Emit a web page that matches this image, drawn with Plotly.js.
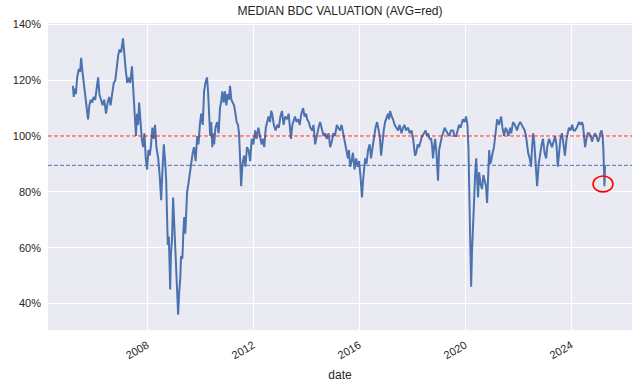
<!DOCTYPE html>
<html>
<head>
<meta charset="utf-8">
<script src="https://cdn.plot.ly/plotly-3.0.1.min.js"></script>
<style>html,body{margin:0;padding:0;background:#fff;}#chart{width:640px;height:386px;}</style>
</head>
<body>
<div id="chart"></div>
<script>
// Decimal-year dates of the series
const yearFrac = [
2005.20,2005.23,2005.27,2005.31,2005.36,2005.42,2005.47,2005.51,2005.56,2005.62,2005.68,2005.74,2005.77,2005.82,2005.87,2005.93,2005.98,
2006.04,2006.09,2006.15,2006.20,2006.26,2006.32,2006.38,2006.45,2006.51,2006.57,2006.62,2006.68,2006.74,2006.80,2006.86,2006.91,2006.96,
2007.02,2007.09,2007.14,2007.19,2007.25,2007.30,2007.36,2007.43,2007.47,2007.53,2007.58,2007.62,2007.66,2007.70,2007.75,2007.80,2007.85,2007.90,2007.95,
2008.00,2008.05,2008.10,2008.15,2008.20,2008.25,2008.30,2008.35,2008.42,2008.48,2008.53,2008.58,2008.63,2008.68,2008.72,2008.75,2008.78,2008.82,2008.87,2008.90,2008.94,2008.98,
2009.02,2009.06,2009.10,2009.14,2009.17,2009.21,2009.25,2009.28,2009.33,2009.37,2009.40,2009.44,2009.48,2009.51,2009.56,2009.61,2009.66,2009.72,2009.77,2009.83,2009.89,2009.94,2009.99,
2010.04,2010.10,2010.15,2010.20,2010.26,2010.30,2010.34,2010.38,2010.42,2010.46,2010.50,2010.53,2010.58,2010.64,2010.70,2010.75,2010.79,2010.84,2010.89,2010.94,2010.99,
2011.04,2011.09,2011.13,2011.18,2011.23,2011.28,2011.32,2011.38,2011.43,2011.47,2011.51,2011.55,2011.60,2011.66,2011.71,2011.77,2011.83,2011.89,2011.95,
2012.01,2012.08,2012.13,2012.20,2012.26,2012.32,2012.37,2012.42,2012.48,2012.53,2012.58,2012.64,2012.68,2012.72,2012.78,2012.85,2012.91,2012.97,
2013.03,2013.09,2013.15,2013.21,2013.28,2013.34,2013.40,2013.43,2013.48,2013.53,2013.58,2013.64,2013.70,2013.76,2013.82,2013.89,2013.94,
2014.00,2014.04,2014.10,2014.16,2014.23,2014.28,2014.34,2014.40,2014.47,2014.53,2014.59,2014.66,2014.72,2014.78,2014.85,2014.91,2014.97,
2015.03,2015.09,2015.16,2015.21,2015.28,2015.34,2015.40,2015.47,2015.53,2015.58,2015.62,2015.66,2015.72,2015.77,2015.83,2015.89,2015.95,
2016.00,2016.05,2016.08,2016.11,2016.15,2016.19,2016.23,2016.28,2016.34,2016.40,2016.45,2016.51,2016.57,2016.62,2016.68,2016.73,2016.78,2016.83,2016.88,2016.93,2016.98,
2017.04,2017.09,2017.13,2017.17,2017.23,2017.28,2017.34,2017.40,2017.47,2017.53,2017.60,2017.66,2017.72,2017.77,2017.85,2017.91,2017.98,
2018.04,2018.08,2018.11,2018.16,2018.21,2018.26,2018.32,2018.38,2018.45,2018.51,2018.56,2018.60,2018.66,2018.72,2018.76,2018.79,2018.83,2018.87,2018.92,2018.98,
2019.02,2019.08,2019.13,2019.17,2019.23,2019.28,2019.34,2019.40,2019.47,2019.55,2019.60,2019.66,2019.72,2019.77,2019.83,2019.88,2019.92,2019.98,
2020.04,2020.09,2020.13,2020.16,2020.20,2020.23,2020.26,2020.30,2020.34,2020.38,2020.42,2020.45,2020.49,2020.53,2020.58,2020.64,2020.69,2020.74,2020.79,2020.83,2020.87,2020.91,2020.95,2020.98,
2021.04,2021.09,2021.15,2021.21,2021.28,2021.36,2021.41,2021.47,2021.53,2021.58,2021.64,2021.70,2021.74,2021.81,2021.88,2021.96,
2022.02,2022.08,2022.14,2022.19,2022.25,2022.30,2022.34,2022.38,2022.44,2022.49,2022.53,2022.57,2022.61,2022.64,2022.68,2022.72,2022.78,2022.83,2022.89,2022.94,
2023.00,2023.06,2023.10,2023.17,2023.23,2023.28,2023.34,2023.40,2023.45,2023.50,2023.55,2023.60,2023.66,2023.72,2023.77,2023.83,2023.92,2023.98,
2024.04,2024.10,2024.15,2024.22,2024.30,2024.36,2024.41,2024.45,2024.49,2024.53,2024.58,2024.63,2024.68,2024.74,2024.79,2024.85,2024.91,2024.97,
2025.02,2025.06,2025.10,2025.15,2025.19,2025.22,2025.24,2025.26,2025.28
];
// Median BDC valuation, percent
const valuation = [
118,114,117,115,121,124,123,128,123,118,114,110,106,111,113,112,114,
113,116,121,115,113,111,113,108,112,114,111,115,119,120,126,129,131,
130,135,128,124,119,121,119,125,118,110,100,108,104,112,104,99,96,101,92,
88,95,93,97,103,99,104,96,92,85,77,88,97,91,84,72,61,64,45,58,63,78,
70,63,52,44,36,44,49,57,56,66,71,65,72,80,83,87,90,94,96,91,100,97,104,
108,104,116,119,121,116,107,100,105,96,101,97,103,105,101,110,112,116,112,116,111,
115,113,118,113,112,111,109,105,104,101,92,82,90,93,89,96,95,91,99,
97,102,99,103,100,97,99,96,103,105,107,105,109,108,104,102,104,103,
107,109,104,107,106,108,103,99,104,106,107,105,106,104,108,110,107,
108,106,105,103,102,104,97,100,103,105,103,100,101,99,101,96,98,
101,100,104,103,102,104,101,98,95,92,95,89,91,94,88,92,89,
91,86,82,78,84,88,92,90,95,97,92,96,100,103,105,102,100,93,98,102,105,
107,108,106,109,107,106,104,103,102,104,101,103,104,102,103,101,102,
99,96,93,94,97,96,98,100,101,102,100,101,99,99,96,92,96,99,94,84,
95,98,100,101,103,102,101,100,102,102,100,100,102,104,103,105,106,105,
107,104,95,80,62,46,58,68,80,86,92,84,78,87,83,81,86,84,82,76,86,95,90,91,
94,96,101,106,104,107,103,100,103,102,100,103,101,105,104,102,
104,105,104,103,102,100,96,94,92,89,96,101,98,94,88,82,90,94,97,99,
94,92,96,99,97,96,98,100,97,89,94,99,101,97,93,99,103,102,
104,102,102,103,105,104,105,104,100,96,99,101,101,100,98,100,101,99,
98,99,101,102,100,95,89,82,89.5
];
const avgLevel = 100;        // red dashed line
const currentLevel = 89.5;   // blue dashed line
const yRange = [30.5, 140.5];
const xRangeYears = [2004.26, 2026.30];
const yTicks = [40, 60, 80, 100, 120, 140];
const markX = [2024.83, 2025.58];  // red ellipse extent
const markY = [80.0, 85.7];

function toDate(y) {
  const yr = Math.floor(y);
  const s = Date.UTC(yr, 0, 1), e = Date.UTC(yr + 1, 0, 1);
  return new Date(s + (y - yr) * (e - s)).toISOString().slice(0, 19).replace('T', ' ');
}
const dates = yearFrac.map(toDate);

const trace = {
  x: dates, y: valuation, type: 'scatter', mode: 'lines',
  line: {color: '#4c72b0', width: 2}, hoverinfo: 'skip'
};

const layout = {
  width: 640, height: 386,
  margin: {l: 48, r: 8, t: 23, b: 56},
  paper_bgcolor: '#ffffff', plot_bgcolor: '#eaeaf2',
  font: {family: '"Liberation Sans", Arial, sans-serif', color: '#262626', size: 11},
  showlegend: false,
  title: {text: 'MEDIAN BDC VALUATION (AVG=red)', x: 0.5, xref: 'paper', xanchor: 'center', y: 0.972, yref: 'container', yanchor: 'middle', font: {size: 12, color: '#262626'}},
  xaxis: {
    type: 'date', range: xRangeYears.map(toDate),
    tick0: '2008-01-01', dtick: 'M48', tickformat: '%Y', tickangle: -30,
    showgrid: true, gridcolor: '#ffffff', gridwidth: 1, zeroline: false, showline: false,
    ticks: '', ticklabelstandoff: 6, tickfont: {size: 11, color: '#262626'},
    title: {text: 'date', font: {size: 12, color: '#262626'}, standoff: 10}
  },
  yaxis: {
    range: yRange, tickvals: yTicks, ticktext: yTicks.map(v => v + '%'),
    showgrid: true, gridcolor: '#ffffff', gridwidth: 1, zeroline: false, showline: false,
    ticks: '', ticklabelstandoff: 6, tickfont: {size: 11, color: '#262626'}
  },
  shapes: [
    {type: 'line', xref: 'paper', x0: 0, x1: 1, yref: 'y', y0: currentLevel, y1: currentLevel,
     line: {color: '#4c72b0', width: 1, dash: '4px,2px'}},
    {type: 'line', xref: 'paper', x0: 0, x1: 1, yref: 'y', y0: avgLevel, y1: avgLevel,
     line: {color: 'rgba(255,0,0,0.85)', width: 1, dash: '4px,2px'}},
    {type: 'circle', xref: 'x', yref: 'y', x0: toDate(markX[0]), x1: toDate(markX[1]), y0: markY[0], y1: markY[1],
     line: {color: '#ff0000', width: 1.6}, fillcolor: 'rgba(0,0,0,0)'}
  ]
};

Plotly.newPlot('chart', [trace], layout, {displayModeBar: false, staticPlot: true});
</script>
</body>
</html>
